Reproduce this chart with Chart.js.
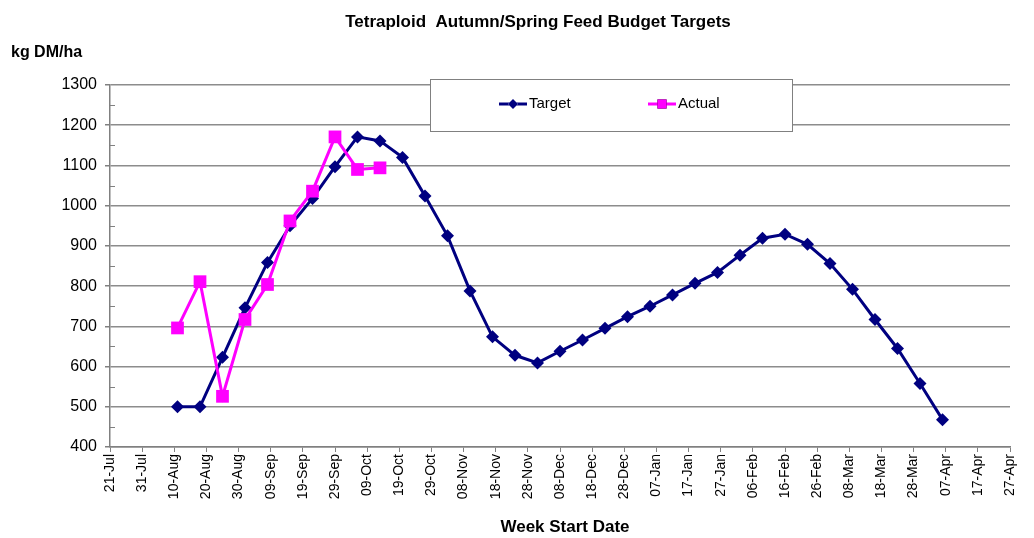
<!DOCTYPE html>
<html>
<head>
<meta charset="utf-8">
<script src="https://cdn.jsdelivr.net/npm/chart.js@4/dist/chart.umd.min.js"></script>
<style>
  html, body { margin: 0; padding: 0; background: #fff; }
  #wrap { width: 1034px; height: 538px; position: relative; }
</style>
</head>
<body>
<div id="wrap"><canvas id="chart"></canvas></div>
<script>
// week start dates (x) and values
var weekStarts = ['11-Aug','18-Aug','25-Aug','01-Sep','08-Sep','15-Sep','22-Sep','29-Sep','06-Oct','13-Oct',
  '20-Oct','27-Oct','03-Nov','10-Nov','17-Nov','24-Nov','01-Dec','08-Dec','15-Dec','22-Dec',
  '29-Dec','05-Jan','12-Jan','19-Jan','26-Jan','02-Feb','09-Feb','16-Feb','23-Feb','02-Mar',
  '09-Mar','16-Mar','23-Mar','30-Mar','06-Apr'];
var target = [500, 500, 623, 746, 859, 950, 1018, 1097, 1171, 1161,
  1120, 1024, 925, 788, 674, 628, 609, 638, 666, 695,
  724, 750, 778, 807, 834, 877, 919, 929, 904, 856,
  792, 717, 645, 558, 468];
var actual = [696, 811, 526, 717, 804, 962, 1036, 1171, 1090, 1094];

// tick labels for the date axis (every 10 days)
var xTickLabels = ['21-Jul','31-Jul','10-Aug','20-Aug','30-Aug','09-Sep','19-Sep','29-Sep','09-Oct','19-Oct',
  '29-Oct','08-Nov','18-Nov','28-Nov','08-Dec','18-Dec','28-Dec','07-Jan','17-Jan','27-Jan',
  '06-Feb','16-Feb','26-Feb','08-Mar','18-Mar','28-Mar','07-Apr','17-Apr','27-Apr'];
var yMin = 400, yMax = 1300;

//日付 -> 21-Jul からの日数
var months = {Jul:6, Aug:7, Sep:8, Oct:9, Nov:10, Dec:11, Jan:0, Feb:1, Mar:2, Apr:3};
function dayOf(label) {
  var p = label.split('-');
  var m = months[p[1]];
  var yr = m >= 6 ? 2009 : 2010;
  return Math.round((Date.UTC(yr, m, +p[0]) - Date.UTC(2009, 6, 21)) / 86400000);
}

var FONT = "'Liberation Sans', Arial, sans-serif";
var NAVY = '#000080', PINK = '#FF00FF';

//タイトル・凡例・補助目盛り
var decor = {
  id: 'decor',
  afterDraw: function(chart) {
    var c = chart.ctx;
    var ys = chart.scales.y;
    var area = chart.chartArea;
    c.save();
    // minor ticks
    c.strokeStyle = '#808080';
    c.lineWidth = 1;
    for (var v = yMin + 50; v < yMax; v += 100) {
      var py = Math.round(ys.getPixelForValue(v)) + 0.5;
      c.beginPath();
      c.moveTo(area.left, py);
      c.lineTo(area.left + 5, py);
      c.stroke();
    }
    c.fillStyle = '#000';
    c.textBaseline = 'middle';
    c.font = 'bold 17px ' + FONT;
    c.textAlign = 'center';
    c.fillText('Tetraploid  Autumn/Spring Feed Budget Targets', 538, 22);
    c.font = 'bold 16px ' + FONT;
    c.textAlign = 'left';
    c.fillText('kg DM/ha', 11, 53);
    c.font = 'bold 17px ' + FONT;
    c.textAlign = 'center';
    c.fillText('Week Start Date', 565, 527);

    // legend box
    c.fillStyle = '#fff';
    c.fillRect(430, 79, 362, 52);
    c.strokeStyle = '#808080';
    c.strokeRect(430.5, 79.5, 362, 52);
    var items = [[chart.data.datasets[0], 499], [chart.data.datasets[1], 648]];
    items.forEach(function(it) {
      var ds = it[0], x0 = it[1], ly = 104;
      c.strokeStyle = ds.borderColor;
      c.lineWidth = 3;
      c.beginPath();
      c.moveTo(x0, ly);
      c.lineTo(x0 + 28, ly);
      c.stroke();
      Chart.helpers.drawPoint(c, {pointStyle: ds.pointStyle, radius: ds.pointStyle === 'rect' ? 6.5 : 5, rotation: 0, borderWidth: 0}, x0 + 14, ly);
      c.fillStyle = ds.borderColor;
      c.fill();
      c.fillStyle = '#000';
      c.font = '15px ' + FONT;
      c.textAlign = 'left';
      c.fillText(ds.label, x0 + 30, ly);
    });
    c.restore();
  }
};

var ctx = document.getElementById('chart');
var chart = new Chart(ctx, {
  type: 'line',
  data: {
    datasets: [{
      label: 'Target',
      data: target.map(function(v, i) { return {x: dayOf(weekStarts[i]), y: v}; }),
      borderColor: NAVY,
      backgroundColor: NAVY,
      borderWidth: 3,
      pointStyle: 'rectRot',
      pointRadius: 6.5,
      pointBorderWidth: 0,
      pointBackgroundColor: NAVY,
      tension: 0,
      order: 2
    }, {
      label: 'Actual',
      data: actual.map(function(v, i) { return {x: dayOf(weekStarts[i]), y: v}; }),
      borderColor: PINK,
      backgroundColor: PINK,
      borderWidth: 3,
      pointStyle: 'rect',
      pointRadius: 9,
      pointBorderWidth: 0,
      pointBackgroundColor: PINK,
      tension: 0,
      order: 1
    }]
  },
  options: {
    responsive: true,
    maintainAspectRatio: false,
    animation: false,
    layout: { padding: { left: 0, right: 24, top: 85, bottom: 0 } },
    plugins: {
      legend: { display: false },
      tooltip: { enabled: false },
      title: { display: false }
    },
    scales: {
      x: {
        type: 'linear',
        min: 0,
        max: (xTickLabels.length - 1) * 10,
        afterBuildTicks: function(axis) {
          axis.ticks = xTickLabels.map(function(l, i) { return {value: i * 10}; });
        },
        afterFit: function(axis) { axis.height = 91; },
        ticks: {
          autoSkip: false,
          minRotation: 90,
          maxRotation: 90,
          padding: 2,
          color: '#000',
          font: { family: FONT, size: 14 },
          callback: function(v, i) { return xTickLabels[i]; }
        },
        grid: {
          drawOnChartArea: false,
          drawTicks: true,
          tickLength: 5,
          tickColor: '#808080'
        },
        border: { color: '#808080', width: 1.5 }
      },
      y: {
        min: yMin,
        max: yMax,
        afterFit: function(axis) { axis.width = 110; },
        ticks: {
          stepSize: 100,
          padding: 8,
          color: '#000',
          font: { family: FONT, size: 16 },
          callback: function(v) { return String(v); }
        },
        grid: {
          color: '#8c8c8c',
          lineWidth: 1.5,
          tickLength: 5,
          tickColor: '#808080'
        },
        border: { color: '#808080', width: 1.5 }
      }
    }
  },
  plugins: [decor]
});
</script>
</body>
</html>
